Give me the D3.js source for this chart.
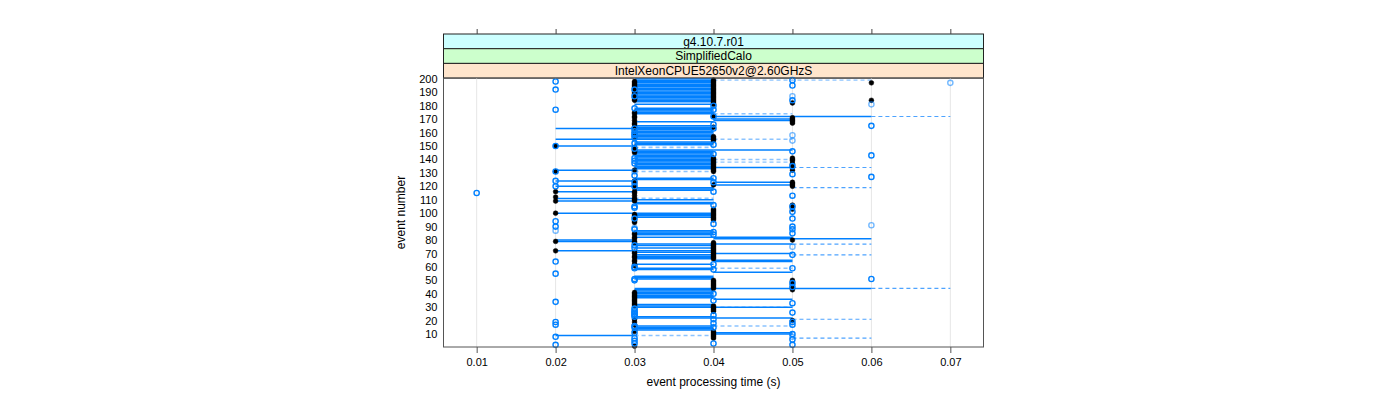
<!DOCTYPE html>
<html><head><meta charset="utf-8">
<script src="https://cdn.jsdelivr.net/npm/d3@7"></script>
<style>body{margin:0;background:#fff}svg{display:block}text{font-family:"Liberation Sans",Arial,sans-serif}</style>
</head><body><svg id="c" width="1400" height="400"></svg>
<script>
// ---- data (event numbers per time value) ----
const xTicks = [0.01, 0.02, 0.03, 0.04, 0.05, 0.06, 0.07];
const yTicks = [10, 20, 30, 40, 50, 60, 70, 80, 90, 100, 110, 120, 130, 140, 150, 160, 170, 180, 190, 200];
const stripLabels = ["g4.10.7.r01", "SimplifiedCalo", "IntelXeonCPUE52650v2@2.60GHzS"];

// filled black points
const black02 = [150, 131, 116, 112, 109, 100, 79, 72];
const black03 = [198,197,196,195,194,193,191,190,189,188,186,185,184,175,174,172,171,169,167,166,164,160,157,149,147,146,145,132,124,122,121,119,116,115,113,111,110,109,99,98,97,95,94,93,85,84,82,81,79,78,71,70,68,67,65,64,62,61,41,40,39,38,37,36,35,34,33,32,31,21,19,17,13,12,1];
const black04 = [199,198,197,196,195,194,193,192,191,190,189,188,187,186,185,184,183,182,181,172,164,157,156,155,154,141,140,139,138,137,136,135,134,133,132,131,121,103,102,101,100,99,98,97,96,95,78,77,76,75,74,73,72,71,70,69,68,67,66,50,49,48,47,46,45,44,31,30,29,28,27,12,11,10,9,8,7];
const black05 = [182,171,170,169,168,167,141,140,139,137,136,134,132,123,122,121,120,106,105,104,103,80,50,49,47,44,43,20];
const black06 = [197, 184];

// open blue circles
const blue01 = [115];
const blue02 = [198, 192, 177, 150, 131, 124, 120, 94, 90, 64, 55, 34, 19, 17, 8, 2];
const blue03 = [192,187,178,163,161,159,158,156,152,148,141,139,137,128,123,120,105,104,96,88,76,74,60,59,51,50,29,27,26,25,24,23,16,15,11,7,5,3];
const blue04 = [180,177,172,166,163,151,144,126,123,116,106,92,86,84,62,58,40,35,24,21,18,15,3];
const blue05 = [199,195,184,146,135,129,113,105,101,96,90,88,85,69,59,48,45,33,26,19,17,10,6,2];
const blue06 = [165, 143, 127, 51];

// light open circles
const light02 = [87];
const light03 = [131, 89, 28];
const light05 = [187, 158, 154, 75, 8];
const light06 = [181, 91];
const light07 = [197];

// solid segments (events), grouped by start/end time
const solid0203 = [163, 155, 150, 132, 124, 120, 116, 111, 109, 100, 80, 79, 72, 9];
const solid0304 = [200,199,198,197,196,195,194,193,192,191,190,189,188,187,186,185,184,183,181,178,177,176,175,174,168,165,164,163,162,161,160,159,158,157,156,155,153,152,151,147,146,145,144,143,142,141,140,139,138,137,136,135,134,133,126,125,119,118,117,110,108,107,100,99,98,97,87,86,85,84,82,77,76,74,72,71,69,68,67,66,62,59,58,53,52,51,44,43,42,41,40,39,38,37,32,31,30,23,22,16,15,14,13];
const solid0405 = [170, 169, 147, 134, 123, 121, 82, 77, 70, 65, 64, 56, 36, 30, 22, 11, 10];
const solid0406 = [172, 81, 44];

// dashed segments (events)
const dash0304 = [149, 131, 111, 9];
const dash0405 = [174, 155, 140, 138, 59, 30, 16];
const dash0406 = [199];
const dash0506 = [134, 119, 77, 69, 21, 7];
const dash0607 = [172, 44];

// ---- drawing ----
const svg = d3.select("#c");
const L = 443.5, R = 983.5, T = 78, B = 347;
const x = d3.scaleLinear().domain([0.0058, 0.0742]).range([L, R]);
const y = d3.scaleLinear().domain([0.4, 200.6]).range([B, T]);
const BLUE = "#0080ff", LIGHT = "#8cc4ff", DASHC = "#4da3ff";

// strips
const stripH = 14.7;
const stripCols = ["#ccffff", "#ccffcc", "#ffe5cc"];
stripLabels.forEach((s, i) => {
  const y0 = 34 + i * stripH;
  svg.append("rect").attr("x", L).attr("y", y0).attr("width", R - L).attr("height", stripH)
    .attr("fill", stripCols[i]).attr("stroke", "#222").attr("stroke-width", 1);
  svg.append("text").attr("x", (L + R) / 2).attr("y", y0 + stripH / 2 + 4.3)
    .attr("text-anchor", "middle").attr("font-size", 12).attr("fill", "#000").text(s);
});

// top axis ticks (no labels)
const topAx = svg.append("g").attr("transform", `translate(0,34)`)
  .call(d3.axisTop(x).tickValues(xTicks).tickSize(5).tickFormat(""));
topAx.select(".domain").remove();
topAx.selectAll("line").attr("stroke", "#444");

// grid
svg.append("g").selectAll("line").data(xTicks).join("line")
  .attr("x1", d => x(d)).attr("x2", d => x(d)).attr("y1", T).attr("y2", B)
  .attr("stroke", "#e6e6e6").attr("stroke-width", 1);

const plot = svg.append("g");
function segs(events, t0, t1, color, dashed, w) {
  plot.append("g").selectAll("line").data(events).join("line")
    .attr("x1", x(t0)).attr("x2", x(t1))
    .attr("y1", d => y(d)).attr("y2", d => y(d))
    .attr("stroke", color).attr("stroke-width", w || 1.5)
    .attr("stroke-dasharray", dashed ? "4,3" : null);
}
segs(dash0304, 0.03, 0.04, LIGHT, true, 1.6);
segs(dash0405, 0.04, 0.05, LIGHT, true, 1.4);
segs(dash0406, 0.04, 0.06, LIGHT, true, 1.2);
segs(dash0506, 0.05, 0.06, DASHC, true, 1.1);
segs(dash0607, 0.06, 0.07, DASHC, true, 1.1);
segs(solid0203, 0.02, 0.03, BLUE, false);
segs(solid0304, 0.03, 0.04, BLUE, false);
segs(solid0405, 0.04, 0.05, BLUE, false);
segs(solid0406, 0.04, 0.06, BLUE, false);

function dots(events, t, fill, stroke, opacity) {
  plot.append("g").selectAll("circle").data(events).join("circle")
    .attr("cx", x(t)).attr("cy", d => y(d)).attr("r", fill === "none" ? 2.6 : 2.4)
    .attr("fill", fill).attr("stroke", stroke).attr("stroke-width", fill === "none" ? 1.4 : 0.5)
    .attr("opacity", opacity);
}
[[black02, 0.02], [black03, 0.03], [black04, 0.04], [black05, 0.05], [black06, 0.06]]
  .forEach(([e, t]) => dots(e, t, "#000", "#000", 1));
[[light02, 0.02], [light03, 0.03], [light05, 0.05], [light06, 0.06], [light07, 0.07]]
  .forEach(([e, t]) => dots(e, t, "none", BLUE, 0.55));
[[blue01, 0.01], [blue02, 0.02], [blue03, 0.03], [blue04, 0.04], [blue05, 0.05], [blue06, 0.06]]
  .forEach(([e, t]) => dots(e, t, "none", BLUE, 1));

// panel border
svg.append("rect").attr("x", L).attr("y", T).attr("width", R - L).attr("height", B - T)
  .attr("fill", "none").attr("stroke", "#555").attr("stroke-width", 1);

// bottom axis
const bx = svg.append("g").attr("transform", `translate(0,${B})`)
  .call(d3.axisBottom(x).tickValues(xTicks).tickSize(6).tickPadding(5).tickFormat(d3.format(".2f")));
bx.select(".domain").remove();
bx.selectAll("line").attr("stroke", "#555");
bx.selectAll("text").attr("font-size", 11).attr("fill", "#000").style("font-family", "Liberation Sans, Arial, sans-serif");

// left axis
const ly = svg.append("g").attr("transform", `translate(${L},0)`)
  .call(d3.axisLeft(y).tickValues(yTicks).tickSize(0).tickPadding(6));
ly.select(".domain").remove();
ly.selectAll("text").attr("font-size", 11).attr("fill", "#000").style("font-family", "Liberation Sans, Arial, sans-serif");

// axis titles
svg.append("text").attr("x", (L + R) / 2).attr("y", 386).attr("text-anchor", "middle")
  .attr("font-size", 12).text("event processing time (s)");
svg.append("text").attr("transform", `translate(405,${(T + B) / 2}) rotate(-90)`)
  .attr("text-anchor", "middle").attr("font-size", 12).text("event number");
</script></body></html>
